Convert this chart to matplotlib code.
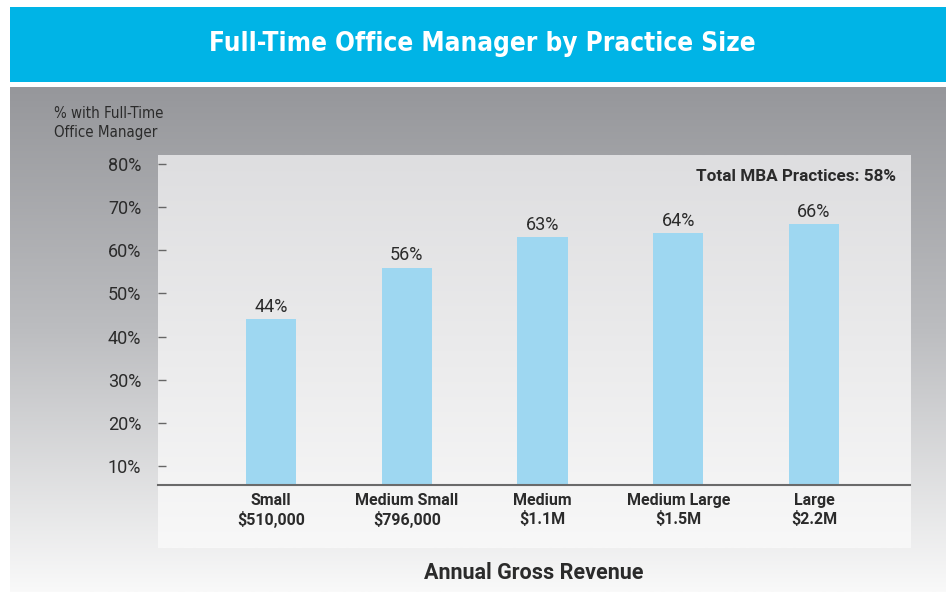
import numpy as np
import matplotlib
matplotlib.use("Agg")
import matplotlib.pyplot as plt
from matplotlib.patches import Rectangle
from matplotlib.colors import to_rgb

# Data
sizes = ["Small", "Medium Small", "Medium", "Medium Large", "Large"]
revenues = ["$510,000", "$796,000", "$1.1M", "$1.5M", "$2.2M"]
pct_full_time = [44, 56, 63, 64, 66]
total_mba = 58
yticks = [10, 20, 30, 40, 50, 60, 70, 80]

W, H = 946, 592
TITLE_BLUE = "#00b4e6"
BAR_BLUE = "#9ed7f1"
TEXT = "#2b2b2b"
NARROW = ["DejaVu Sans"]
BODY = ["Roboto", "DejaVu Sans"]


def vgrad(stops, n=300):
    # stops: list of (position 0..1, colour) from top to bottom
    pos = np.array([s[0] for s in stops])
    cols = np.array([to_rgb(s[1]) for s in stops])
    t = np.linspace(0, 1, n)
    arr = np.stack([np.interp(t, pos, cols[:, k]) for k in range(3)], axis=-1)
    return arr[:, None, :]


fig = plt.figure(figsize=(W / 100, H / 100), dpi=100)

# background layer in pixel coordinates
bg = fig.add_axes([0, 0, 1, 1])
bg.set_xlim(0, W)
bg.set_ylim(H, 0)
bg.axis("off")

bg.add_patch(Rectangle((10, 7), W - 10, 75, color=TITLE_BLUE, lw=0))
bg.text(482, 44, "Full-Time Office Manager by Practice Size", color="white",
        fontsize=18.7, fontweight="bold", family=NARROW, fontstretch="condensed",
        ha="center", va="center")

bg.imshow(vgrad([(0, "#96979b"), (0.48, "#bcbdc0"), (1, "#f9f9f9")]),
          extent=(10, W, H, 87), aspect="auto", interpolation="bilinear")
bg.imshow(vgrad([(0, "#dedee0"), (1, "#f8f8f8")]),
          extent=(158, 910, 548, 155), aspect="auto", interpolation="bilinear")
bg.set_xlim(0, W)
bg.set_ylim(H, 0)

bg.text(54, 123, "% with Full-Time\nOffice Manager", color=TEXT, fontsize=10.8,
        family=NARROW, fontstretch="condensed", ha="left", va="center",
        linespacing=1.4)
bg.text(534, 573, "Annual Gross Revenue", color=TEXT, fontsize=15.5,
        fontweight="bold", family=BODY, ha="center", va="center")

# bar chart
ax = fig.add_axes([158 / W, (H - 485) / H, (910 - 158) / W, (485 - 155) / H])
ax.patch.set_visible(False)

x = np.arange(len(sizes))
bars = ax.bar(x, pct_full_time, width=0.37, color=BAR_BLUE, zorder=2)
for b, v in zip(bars, pct_full_time):
    ax.annotate(f"{v}%", (b.get_x() + b.get_width() / 2, v), xytext=(0, 2.5),
                textcoords="offset points", ha="center", va="bottom",
                fontsize=13, color=TEXT, family=BODY)

ax.set_xlim(-0.832, 4.707)
ax.set_ylim(5.6, 82.1)
ax.set_yticks(yticks)
ax.set_yticklabels([f"{t}%" for t in yticks], fontsize=13, color=TEXT,
                   family=BODY)
ax.set_xticks(x)
ax.set_xticklabels([f"{s}\n{r}" for s, r in zip(sizes, revenues)],
                   fontsize=11.5, fontweight="bold", color=TEXT, family=BODY)

ax.tick_params(axis="y", direction="in", length=6, width=1, color="#666666",
               pad=12)
ax.tick_params(axis="x", length=0, pad=6)
for side in ("left", "top", "right"):
    ax.spines[side].set_visible(False)
ax.spines["bottom"].set_color("#6a6a6a")
ax.spines["bottom"].set_linewidth(1.5)

ax.text(0.981, 0.935, f"Total MBA Practices: {total_mba}%", transform=ax.transAxes,
        ha="right", va="center", fontsize=12.3, fontweight="bold", color=TEXT,
        family=BODY)

fig.savefig("out.png", dpi=100)
